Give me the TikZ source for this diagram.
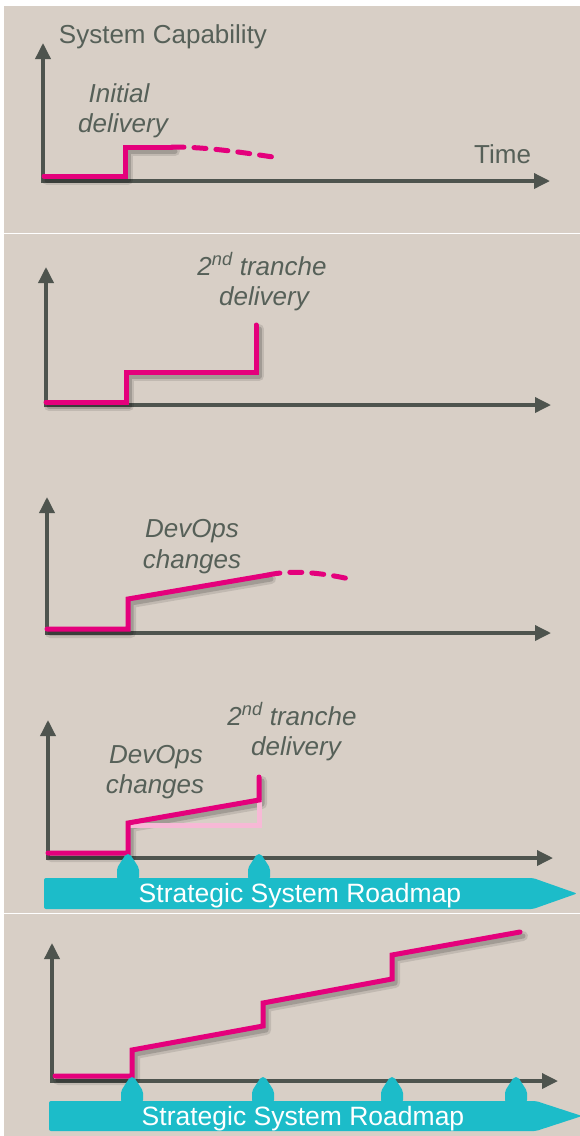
\documentclass[tikz,border=0pt]{standalone}
\usepackage{fontspec}
\setmainfont{Liberation Sans}
\usetikzlibrary{arrows.meta}
\definecolor{bg}{HTML}{D8CFC6}
\definecolor{axiscol}{HTML}{4E544E}
\definecolor{txt}{HTML}{566058}
\definecolor{mag}{HTML}{E4007C}
\definecolor{lpink}{HTML}{F7B9D6}
\definecolor{teal1}{HTML}{1CBCC9}
\newcommand{\roadpin}[2]{\fill[teal1, rounded corners=2pt] (#1-11,#2+1) -- (#1-11,#2-10) -- (#1-2,#2-24) -- (#1+2,#2-24) -- (#1+11,#2-10) -- (#1+11,#2+1) -- cycle;}
\begin{document}
\begin{tikzpicture}[x=1pt,y=-1pt,
  axisline/.style={draw=axiscol, line width=3.5pt, line join=miter,
    {Triangle[length=16pt,width=15pt]}-{Triangle[length=16pt,width=15pt]}},
  magline/.style={draw=mag, line width=5pt, line join=miter, line cap=round},
  magdash/.style={draw=mag, line width=5pt, line cap=round, dash pattern=on 12pt off 10pt},
  shadowA/.style={draw=black, opacity=0.10, line width=10pt, line join=round, line cap=round, xshift=3pt, yshift=-4pt},
  shadowB/.style={draw=black, opacity=0.16, line width=5pt, line join=round, line cap=round, xshift=3pt, yshift=-4pt},
  lbl/.style={text=txt, font=\fontsize{26}{31}\selectfont, anchor=base, inner sep=0pt},
  ilbl/.style={lbl, font=\fontsize{26}{31}\selectfont\itshape},
  roadtxt/.style={text=white, font=\fontsize{26.5}{31}\selectfont, anchor=base, inner sep=0pt},
  roadbar/.style={fill=teal1, rounded corners=2pt}
]
\useasboundingbox (0,0) rectangle (580,1136);
\fill[white] (0,0) rectangle (580,1136);
\fill[bg] (4,6) rectangle (580,232.5);
\fill[bg] (4,234) rectangle (580,912.5);
\fill[bg] (4,914) rectangle (580,1136);

% ---------- Chart 1 ----------
\draw[axisline] (43,43) |- (550,181);
\draw[shadowA] (44,176) -- (125,176) -- (125,147) -- (172,147);
\draw[shadowB] (44,176) -- (125,176) -- (125,147) -- (172,147);
\draw[magline] (44,176) -- (125,176) -- (125,147) -- (172,147);
\draw[magdash] (172,147) .. controls (210,147) and (245,153) .. (280,158);
\node[lbl] (cap) at (163,43) {System Capability};
\node[ilbl] (init1) at (119,102) {Initial};
\node[ilbl] (init2) at (123,132) {delivery};
\node[lbl, anchor=base west] (time) at (474,163) {Time};

% ---------- Chart 2 ----------
\draw[axisline] (46,267) |- (551,405);
\draw[shadowA] (46,402) -- (126,402) -- (126,372) -- (256,372) -- (256,325);
\draw[shadowB] (46,402) -- (126,402) -- (126,372) -- (256,372) -- (256,325);
\draw[magline] (46,402) -- (126,402) -- (126,372) -- (256,372) -- (256,325);
\node[ilbl] (tr1) at (262,275) {2\textsuperscript{nd} tranche};
\node[ilbl] (tr2) at (264,305) {delivery};

% ---------- Chart 3 ----------
\draw[axisline] (47,497) |- (551,633);
\draw[shadowA] (47,629) -- (128,629) -- (128,599) -- (268,575);
\draw[shadowB] (47,629) -- (128,629) -- (128,599) -- (268,575);
\draw[magline] (47,629) -- (128,629) -- (128,599) -- (268,575);
\draw[magdash] (268,575) .. controls (290,570) and (320,572) .. (354,580);
\node[ilbl] (dv1) at (192,537) {DevOps};
\node[ilbl] (dv2) at (192,568) {changes};

% ---------- Chart 4 ----------
\draw[axisline] (48,720) |- (553,858);
\draw[shadowA] (48,853) -- (128,853) -- (128,823) -- (259,800) -- (259,777);
\draw[shadowB] (48,853) -- (128,853) -- (128,823) -- (259,800) -- (259,777);
\draw[draw=lpink, line width=5pt, line join=miter] (128,825) -- (259,825) -- (259,800);
\draw[magline] (48,853) -- (128,853) -- (128,823) -- (259,800) -- (259,777);
\node[ilbl] (tr3) at (292,725) {2\textsuperscript{nd} tranche};
\node[ilbl] (tr4) at (296,755) {delivery};
\node[ilbl] (dv3) at (156,763) {DevOps};
\node[ilbl] (dv4) at (155,793) {changes};
\roadpin{128}{878}
\roadpin{259}{878}
\path[roadbar] (44,878) -- (533,878) -- (577,893.5) -- (533,909) -- (44,909) -- cycle;
\node[roadtxt] (rm1) at (300,902) {Strategic System Roadmap};

% ---------- Chart 5 ----------
\draw[axisline] (52,943) |- (558,1081);
\draw[shadowA] (55,1076) -- (132,1076) -- (132,1050) -- (263,1026) -- (263,1003) -- (392,979) -- (392,955) -- (520,932);
\draw[shadowB] (55,1076) -- (132,1076) -- (132,1050) -- (263,1026) -- (263,1003) -- (392,979) -- (392,955) -- (520,932);
\draw[magline] (55,1076) -- (132,1076) -- (132,1050) -- (263,1026) -- (263,1003) -- (392,979) -- (392,955) -- (520,932);
\roadpin{132}{1101}
\roadpin{263}{1101}
\roadpin{392}{1101}
\roadpin{516}{1101}
\path[roadbar] (49,1101) -- (536,1101) -- (582,1116) -- (536,1131) -- (49,1131) -- cycle;
\node[roadtxt] (rm2) at (303,1125) {Strategic System Roadmap};
\end{tikzpicture}
\end{document}
